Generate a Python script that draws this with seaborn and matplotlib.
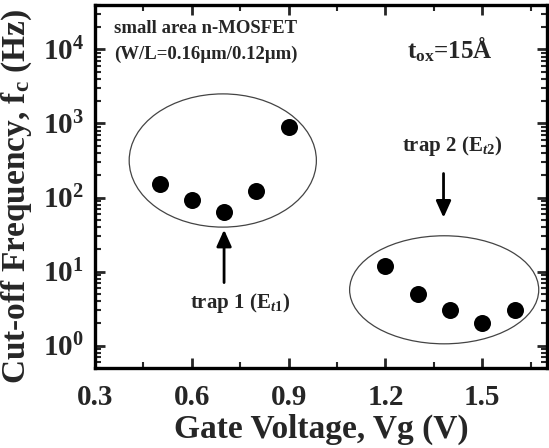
import numpy as np
import pandas as pd
import matplotlib
matplotlib.use('Agg')
import matplotlib.pyplot as plt
import seaborn as sns
from matplotlib.patches import Ellipse
from matplotlib.ticker import MultipleLocator, LogLocator, FuncFormatter, NullFormatter

sns.set_style('ticks')
plt.rcParams['font.family'] = ['Liberation Serif', 'DejaVu Serif']
plt.rcParams['font.weight'] = 'bold'
plt.rcParams['mathtext.fontset'] = 'custom'
plt.rcParams['mathtext.rm'] = 'Liberation Serif:bold'
plt.rcParams['mathtext.it'] = 'Liberation Serif:italic:bold'
plt.rcParams['mathtext.bf'] = 'Liberation Serif:bold'

# data
gate_voltage = [0.5, 0.6, 0.7, 0.8, 0.9, 1.2, 1.3, 1.4, 1.5, 1.6]
cutoff_freq = [150, 92, 63, 123, 890, 12, 5.0, 3.0, 2.0, 3.0]
x_ticks = [0.3, 0.6, 0.9, 1.2, 1.5]
y_ticks = [1, 10, 100, 1000, 10000]

df = pd.DataFrame({'vg': gate_voltage, 'fc': cutoff_freq})

xmin, xmax = 0.3, 1.7
ymin, ymax = 0.5, 4e4

fig = plt.figure(figsize=(5.49, 4.48), dpi=100)
ax = fig.add_axes([0.173, 0.179, 0.823, 0.810])

sns.scatterplot(data=df, x='vg', y='fc', color='black', s=150,
                edgecolor='black', linewidth=0, ax=ax, zorder=3)

ax.set_yscale('log')
ax.set_xlim(xmin, xmax)
ax.set_ylim(ymin, ymax)

ax.set_xticks(x_ticks)
ax.xaxis.set_minor_locator(MultipleLocator(0.15))
ax.yaxis.set_major_locator(LogLocator(base=10, numticks=10))
ax.yaxis.set_minor_locator(LogLocator(base=10, subs=np.arange(2, 10), numticks=20))
ax.yaxis.set_minor_formatter(NullFormatter())
ax.yaxis.set_major_formatter(FuncFormatter(lambda v, p: r'$\mathrm{10^{%d}}$' % round(np.log10(v))))
ax.set_xticklabels([f'{t:.1f}' for t in x_ticks])

ax.tick_params(which='both', direction='in', top=True, right=True, labelsize=21)
ax.tick_params(axis='x', pad=12)
ax.tick_params(axis='y', pad=8)
ax.tick_params(which='major', length=7, width=2)
ax.tick_params(which='minor', length=4, width=1.5)
for s in ax.spines.values():
    s.set_linewidth(2.4)
    s.set_color('black')

ax.set_xlabel('Gate Voltage, Vg (V)', fontsize=24, fontweight='bold', labelpad=2)
ax.set_ylabel('Cut-off Frequency, f$_\\mathrm{c}$ (Hz)', fontsize=24, fontweight='bold')
ax.yaxis.set_label_coords(-0.135, 0.474)


# ellipses drawn in axes fraction from (x, log10 y) centre/size
def to_frac(x, ly):
    fx = (x - xmin) / (xmax - xmin)
    fy = (ly - np.log10(ymin)) / (np.log10(ymax) - np.log10(ymin))
    return fx, fy

for cx, cly, w, h in [(0.696, 2.50, 0.58, 1.80), (1.382, 0.753, 0.586, 1.46)]:
    fx, fy = to_frac(cx, cly)
    fw = w / (xmax - xmin)
    fh = h / (np.log10(ymax) - np.log10(ymin))
    ax.add_patch(Ellipse((fx, fy), fw, fh, transform=ax.transAxes,
                         fill=False, edgecolor='#444444', linewidth=0.9))

arrow = dict(arrowstyle='-|>,head_length=1.0,head_width=0.45', color='black', lw=2)
ax.annotate('', xy=(0.70, 40), xytext=(0.70, 6.5), arrowprops=arrow)
ax.annotate('', xy=(1.38, 49), xytext=(1.38, 230), arrowprops=arrow)

ax.text(0.75, 3.7, 'trap 1 (E$_{t1}$)', fontsize=15, fontweight='bold', ha='center', va='center')
ax.text(1.405, 500, 'trap 2 (E$_{t2}$)', fontsize=15, fontweight='bold', ha='center', va='center')
ax.text(0.36, 1.9e4, 'small area n-MOSFET', fontsize=13.5, fontweight='bold', ha='left', va='center')
ax.text(0.36, 8.7e3, '(W/L=0.16µm/0.12µm)', fontsize=13.5, fontweight='bold', ha='left', va='center')
ax.text(1.268, 1.0e4, 't$_{\\mathrm{ox}}$=15Å', fontsize=18, fontweight='bold', ha='left', va='center')

fig.savefig('out.png', dpi=100, facecolor='white')
